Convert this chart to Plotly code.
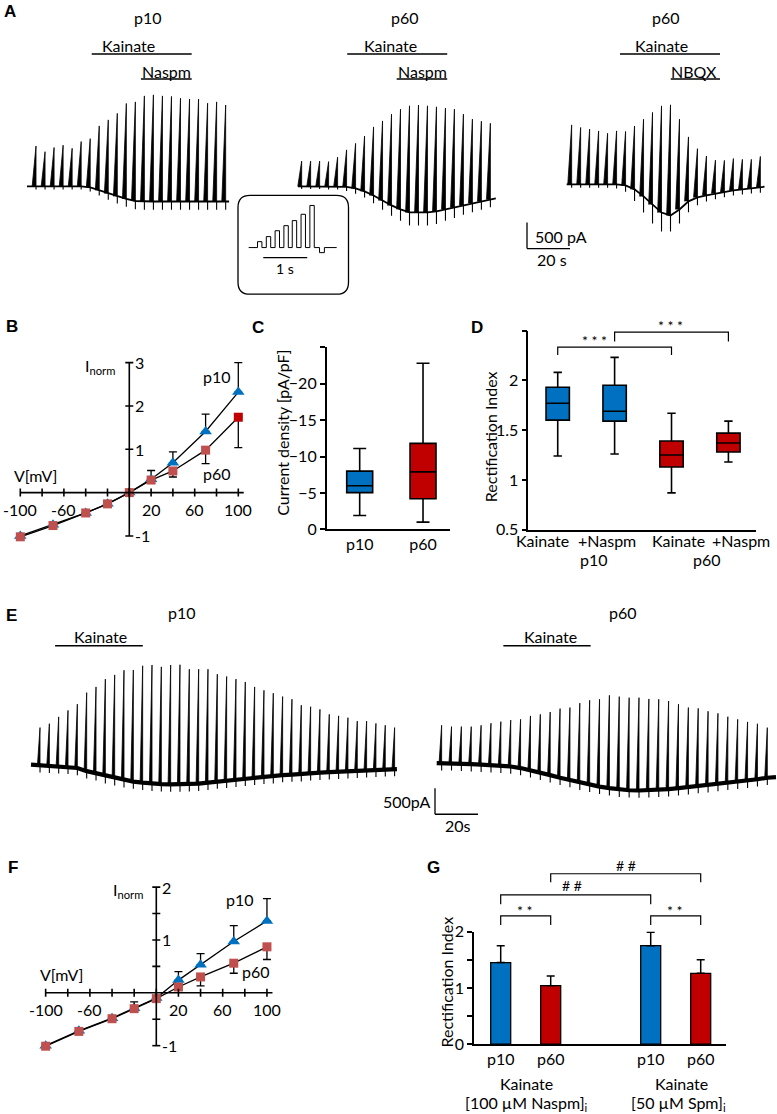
import plotly.graph_objects as go

W, H = 777, 1114
BLUE, RED, ROSE = "#0070C0", "#C00000", "#C0504D"
FONT = "Lato"
S_PER_PX = 20 / 43      # trace time scale (20 s bar)
PA_PER_PX = 500 / 26    # trace current scale (500 pA bar)
V_FIX = 1 / 0.98        # the photographed page comes out ~2 % shorter; stretch vertical layout

# ---- A: responses to ramp stimuli (pA, relative to the initial holding current) ----
a1_peak = [775, 665, 745, 790, 730, 860, 915, 1160, 1275, 1400, 1590, 1620, 1735, 1755, 1735, 1725,
           1690, 1675, 1675, 1595, 1620, 1560]
a1_base = [0, 0, 0, 0, 0, 0, -20, -75, -135, -190, -240, -280, -290, -290, -290, -290, -290, -290,
           -290, -290, -290, -290]
a1_tail = [60, 60, 60, 60, 60, 60, 80, 100, 120, 140, 150, 160, 160, 160, 160, 160, 160, 160, 160,
           160, 160, 160]
a2_peak = [485, 485, 485, 475, 560, 700, 825, 965, 1140, 1255, 1385, 1480, 1545, 1560, 1545, 1525,
           1500, 1480, 1385, 1290, 1250, 1210]
a2_base = [0, 0, 0, 0, 0, -10, -40, -95, -175, -270, -365, -440, -500, -500, -500, -480, -440, -405,
           -365, -325, -290, -250]
a2_tail = [50, 50, 50, 60, 60, 80, 100, 120, 150, 180, 200, 220, 250, 250, 250, 240, 220, 200, 180,
           170, 160, 150]
a3_peak = [1140, 1090, 1060, 1025, 980, 1025, 1015, 1120, 1250, 1380, 1505, 1525, 1250, 910, 685,
           545, 465, 460, 495, 480, 480, 535]
a3_base = [0, 0, 0, 0, 0, 0, -20, -95, -230, -385, -540, -595, -480, -325, -250, -210, -175, -145,
           -115, -95, -75, -60]
a3_tail = [65, 65, 65, 65, 65, 80, 120, 225, 310, 365, 365, 310, 270, 210, 150, 120, 110, 100, 100,
           100, 100, 100]
a1_kainate, a1_naspm = (30.1, 76.6), (53.0, 76.6)
a2_kainate, a2_naspm = (22.9, 69.4), (45.9, 69.4)
a3_kainate, a3_nbqx = (24.8, 71.3), (48.4, 71.3)

# inset: ramp protocol response (relative units)
inset_on = [0.2, 0.4, 0.6, 0.8, 0.99, 1.19, 1.39]
inset_steps = [0.14, 0.26, 0.40, 0.52, 0.64, 0.79, 1.0]
inset_dip = -0.12

# ---- E: responses with intracellular polyamines ----
e1_peak = [710, 785, 915, 1040, 1160, 1380, 1490, 1640, 1720, 1810, 1815, 1895, 1910, 1875, 1910,
           1915, 1830, 1830, 1830, 1735, 1690, 1640, 1585, 1490, 1425, 1370, 1305, 1255, 1140, 1110,
           1060, 965, 935, 900, 835, 835, 790, 755, 710]
e1_base = [-10, -20, -30, -40, -65, -125, -165, -220, -260, -300, -325, -345, -365, -375, -380, -380,
           -375, -365, -345, -325, -310, -290, -270, -250, -230, -220, -200, -190, -185, -165, -155,
           -145, -135, -125, -115, -105, -95, -90, -85]
e2_peak = [725, 700, 700, 700, 725, 765, 795, 825, 840, 905, 935, 980, 1045, 1065, 1150, 1205, 1225,
           1300, 1275, 1255, 1255, 1230, 1225, 1190, 1130, 1065, 1050, 995, 955, 890, 840, 790, 755,
           680]
e2_base = [0, 0, -10, -20, -30, -40, -50, -65, -95, -135, -185, -230, -280, -325, -375, -415, -450,
           -480, -510, -520, -525, -520, -510, -500, -480, -460, -440, -425, -400, -375, -355, -335,
           -310, -280]
e_tail = 140
e1_kainate, e2_kainate = (11.2, 52.0), (31.0, 71.6)

# ---- B / F: normalised I-V relations ----
iv_v = [-100, -70, -40, -20, 0, 20, 40, 70, 100]
b_p10 = [-1.0, -0.74, -0.47, -0.26, 0, 0.31, 0.69, 1.41, 2.32]
b_p10_err = [0, 0, 0, 0, 0, 0.2, 0.25, 0.40, 0.68]
b_p60 = [-1.02, -0.76, -0.47, -0.26, 0, 0.29, 0.50, 0.98, 1.74]
b_p60_err = [0, 0, 0, 0, 0, 0, 0.14, 0.31, 0.70]
f_p10 = [-1.0, -0.72, -0.48, -0.29, -0.10, 0.24, 0.53, 0.97, 1.36]
f_p10_err = [0, 0, 0, 0, 0, 0.16, 0.21, 0.30, 0.42]
f_p60 = [-1.01, -0.73, -0.49, -0.30, -0.11, 0.11, 0.30, 0.56, 0.87]
f_p60_up = [0, 0, 0, 0.13, 0, 0, 0, 0, 0]
f_p60_down = [0, 0, 0, 0, 0, 0, 0.17, 0.19, 0.24]

# ---- C: current density boxes (pA/pF) ----
c_groups = ["p10", "p60"]
c_low = [-11.1, -22.8]
c_q1 = [-8.0, -11.8]
c_med = [-6.0, -7.9]
c_q3 = [-5.05, -4.2]
c_high = [-1.9, -1.0]

# ---- D: rectification index boxes ----
d_labels = ["Kainate", "+Naspm", "Kainate", "+Naspm"]
d_low = [1.24, 1.26, 0.87, 1.18]
d_q1 = [1.60, 1.59, 1.13, 1.28]
d_med = [1.77, 1.69, 1.25, 1.37]
d_q3 = [1.93, 1.95, 1.39, 1.47]
d_high = [2.08, 2.23, 1.67, 1.59]

# ---- G: rectification index bars ----
g_labels = ["p10", "p60", "p10", "p60"]
g_pos = [1, 2, 4, 5]
g_mean = [1.45, 1.04, 1.75, 1.26]
g_sem = [0.30, 0.17, 0.24, 0.24]

fig = go.Figure()
AX = {}
shapes, notes = [], []


def xid(n):
    return "x" if n == 1 else f"x{n}"


def yid(n):
    return "y" if n == 1 else f"y{n}"


def PX(p):
    return p / W


def PY(p):
    # pixel row (from top) -> paper fraction, with the vertical stretch about the page centre
    return 1 - (H / 2 + (p - H / 2) * V_FIX) / H


def add_axes(n, box, xr, yr, xa=None, ya=None):
    left, right, top, bottom = box
    AX[n] = (box, xr, yr)
    base = dict(showgrid=False, zeroline=False, visible=False, fixedrange=True)
    xd = dict(base, domain=[PX(left), PX(right)], range=xr, anchor=yid(n))
    yd = dict(base, domain=[PY(bottom), PY(top)], range=yr, anchor=xid(n))
    xd.update(xa or {})
    yd.update(ya or {})
    fig.update_layout({("xaxis" if n == 1 else f"xaxis{n}"): xd,
                       ("yaxis" if n == 1 else f"yaxis{n}"): yd})


def scaled(box, x0_px, y0_px, sx, sy):
    left, right, top, bottom = box
    return ([(left - x0_px) * sx, (right - x0_px) * sx],
            [(y0_px - bottom) * sy, (y0_px - top) * sy])


def to_px(n, x, y):
    (left, right, top, bottom), xr, yr = AX[n]
    px = left + (x - xr[0]) / (xr[1] - xr[0]) * (right - left)
    py = bottom - (y - yr[0]) / (yr[1] - yr[0]) * (bottom - top)
    return px, py


def seg(x0, y0, x1, y1, w=1.5):
    shapes.append(dict(type="line", xref="paper", yref="paper", x0=PX(x0), y0=PY(y0),
                       x1=PX(x1), y1=PY(y1), line=dict(color="black", width=w)))


def bracket(x0, x1, top, bottom, w=1.2):
    shapes.append(dict(type="path", xref="paper", yref="paper",
                       path=f"M {PX(x0)},{PY(bottom)} L {PX(x0)},{PY(top)} "
                            f"L {PX(x1)},{PY(top)} L {PX(x1)},{PY(bottom)}",
                       line=dict(color="black", width=w)))


def text(x, y, s, size=16, anchor="center", angle=0, bold=False):
    notes.append(dict(x=PX(x), y=PY(y), xref="paper", yref="paper",
                      text=f"<b>{s}</b>" if bold else s, showarrow=False, xanchor=anchor,
                      yanchor="middle", textangle=angle, borderpad=0,
                      font=dict(family="Liberation Sans" if bold else FONT, size=size,
                                color="black")))


def letter(x, y, s):
    text(x, y, s, size=17, bold=True)


def spike_train(n, first, period, peaks, bases, tails, end, base_end, ramp, lw):
    times = [first + k * period for k in range(len(peaks))]
    ref = dict(xaxis=xid(n), yaxis=yid(n), hoverinfo="skip", cliponaxis=False)
    fig.add_trace(go.Scatter(x=[0] + times + [end], y=[0] + bases + [base_end], mode="lines",
                             line=dict(color="black", width=lw), **ref))
    wx, wy, tx, ty = [], [], [], []
    for t, p, b, d in zip(times, peaks, bases, tails):
        wx += [t - ramp, t, t, None]
        wy += [b, p, b, None]
        tx += [t, t, None]
        ty += [b, b - d, None]
    fig.add_trace(go.Scatter(x=wx, y=wy, mode="lines", fill="toself", fillcolor="black",
                             line=dict(color="black", width=0.8), **ref))
    fig.add_trace(go.Scatter(x=tx, y=ty, mode="lines", line=dict(color="black", width=1.1), **ref))


def app_bar(n, window, y_px):
    x0 = to_px(n, window[0], 0)[0]
    x1 = to_px(n, window[1], 0)[0]
    seg(x0, y_px, x1, y_px, 1.5)


# ================= A =================
box = (20, 236, 88, 222)
add_axes(1, box, *scaled(box, 27, 187, S_PER_PX, PA_PER_PX))
spike_train(1, 4.2, 4.2, a1_peak, a1_base, a1_tail, 94, -290, 1.8, 1.8)
box = (290, 500, 88, 232)
add_axes(2, box, *scaled(box, 298, 187, S_PER_PX, PA_PER_PX))
spike_train(2, 1.7, 4.18, a2_peak, a2_base, a2_tail, 92, -230, 1.8, 1.8)
box = (560, 770, 88, 240)
add_axes(3, box, *scaled(box, 566.7, 185, S_PER_PX, PA_PER_PX))
spike_train(3, 2.3, 4.18, a3_peak, a3_base, a3_tail, 92, -45, 1.8, 1.8)

letter(10, 13, "A")
text(148.3, 18.3, "p10")
text(128.3, 46.7, "Kainate")
app_bar(1, a1_kainate, 55)
text(166, 72.7, "Naspm")
app_bar(1, a1_naspm, 80)
text(405, 18.3, "p60")
text(390, 46.7, "Kainate")
app_bar(2, a2_kainate, 55)
text(422.7, 72.7, "Naspm")
app_bar(2, a2_naspm, 80)
text(665.7, 18.3, "p60")
text(661, 46.7, "Kainate")
app_bar(3, a3_kainate, 55)
text(694.3, 72.7, "NBQX")
app_bar(3, a3_nbqx, 80)

# scale bar
sb_v, sb_h = 500 / PA_PER_PX, 20 / S_PER_PX
seg(527, 223, 527, 223 + sb_v, 1.3)
seg(527, 223 + sb_v, 527 + sb_h, 223 + sb_v, 1.3)
text(534, 236.5, "500 pA", anchor="left")
text(551.7, 259.5, "20 s")

# inset
box = (240, 346, 198, 292)
add_axes(4, box, *scaled(box, 248.7, 248, 1 / 44, 1 / 42))
sx, sy = [0], [0]
for t0, h in zip(inset_on, inset_steps):
    sx += [t0, t0, t0 + 0.1, t0 + 0.1]
    sy += [0, h, h, 0]
sx += [1.61, 1.61, 1.72, 1.72, 2.0]
sy += [0, inset_dip, inset_dip, 0, 0]
fig.add_trace(go.Scatter(x=sx, y=sy, mode="lines", line=dict(color="black", width=1),
                         xaxis="x4", yaxis="y4", hoverinfo="skip"))
bx0 = to_px(4, 0.33, 0)[0]
bx1 = to_px(4, 1.33, 0)[0]
seg(bx0, 258, bx1, 258, 1.2)
text((bx0 + bx1) / 2, 269, "1 s", size=14)
x0, y0, x1, y1, r = 238, 196, 348.5, 294.5, 12
shapes.append(dict(
    type="path", xref="paper", yref="paper", line=dict(color="black", width=1.3),
    path=(f"M {PX(x0 + r)},{PY(y0)} L {PX(x1 - r)},{PY(y0)} Q {PX(x1)},{PY(y0)} {PX(x1)},{PY(y0 + r)} "
          f"L {PX(x1)},{PY(y1 - r)} Q {PX(x1)},{PY(y1)} {PX(x1 - r)},{PY(y1)} "
          f"L {PX(x0 + r)},{PY(y1)} Q {PX(x0)},{PY(y1)} {PX(x0)},{PY(y1 - r)} "
          f"L {PX(x0)},{PY(y0 + r)} Q {PX(x0)},{PY(y0)} {PX(x0 + r)},{PY(y0)} Z")))


# ================= B / F: I-V plots =================
def iv_panel(n, box, ox, oy, px_per_mv, px_per_unit, yticks, ylabels, p10, p10_err, p60, p60_up,
             p60_down, p60_colors):
    add_axes(n, box, *scaled(box, ox, oy, 1 / px_per_mv, 1 / px_per_unit))
    xr, yr = xid(n), yid(n)
    ln = dict(color="black", width=1.6)
    shapes.append(dict(type="line", xref=xr, yref=yr, x0=-100, x1=105, y0=0, y1=0, line=ln))
    shapes.append(dict(type="line", xref=xr, yref=yr, x0=0, x1=0, y0=-1, y1=yticks[-1], line=ln))
    for v in [-100, -80, -60, -40, -20, 0, 20, 40, 60, 80, 100]:
        shapes.append(dict(type="line", xref=xr, yref=yr, x0=v, x1=v, ysizemode="pixel",
                           yanchor=0, y0=-4, y1=4, line=ln))
    for v in yticks:
        shapes.append(dict(type="line", xref=xr, yref=yr, y0=v, y1=v, xsizemode="pixel",
                           xanchor=0, x0=-4, x1=4, line=ln))
    for v in [-100, -60, 20, 60, 100]:
        notes.append(dict(x=v, y=0, xref=xr, yref=yr, text=str(v), showarrow=False, yshift=-17,
                          font=dict(family=FONT, size=16, color="black")))
    for v in ylabels:
        notes.append(dict(x=0, y=v, xref=xr, yref=yr, text=str(v), showarrow=False, xshift=4,
                          xanchor="left", font=dict(family=FONT, size=16, color="black")))
    ref = dict(xaxis=xr, yaxis=yr, hoverinfo="skip", cliponaxis=False)
    fig.add_trace(go.Scatter(
        x=iv_v, y=p10, mode="lines+markers", line=dict(color="black", width=1.3),
        marker=dict(symbol="triangle-up", size=11, color=BLUE),
        error_y=dict(type="data", array=p10_err, arrayminus=[0] * len(p10), symmetric=False,
                     color="black", thickness=1.3, width=4), **ref))
    fig.add_trace(go.Scatter(
        x=iv_v, y=p60, mode="lines+markers", line=dict(color="black", width=1.3),
        marker=dict(symbol="square", size=9, color=p60_colors),
        error_y=dict(type="data", array=p60_up, arrayminus=p60_down, symmetric=False,
                     color="black", thickness=1.3, width=4), **ref))


iv_panel(5, (10, 250, 355, 545), 129.3, 492.3, 1.09, 43.2, [-1, 1, 2, 3], [3, 2, 1, -1],
         b_p10, b_p10_err, b_p60, [0] * 9, b_p60_err, [ROSE] * 8 + [RED])
letter(12, 327, "B")
text(100, 366.7, "I<sub>norm</sub>")
text(35, 475, "V[mV]")
text(216.7, 376.7, "p10")
text(216.7, 473.3, "p60")

iv_panel(10, (35, 280, 875, 1055), 156.3, 991, 1.1065, 52.7, [-1, -0.5, 0.5, 1, 1.5, 2],
         [2, 1, -1], f_p10, f_p10_err, f_p60, f_p60_up, f_p60_down, [ROSE] * 9)
letter(12.7, 866, "F")
text(128.3, 889.3, "I<sub>norm</sub>")
text(61.7, 972.7, "V[mV]")
text(240, 898.3, "p10")
text(256, 970, "p60")

# ================= C =================
axis_style = dict(visible=True, showline=True, linecolor="black", linewidth=1.6,
                  tickfont=dict(family=FONT, size=16, color="black"))
tick_style = dict(ticks="outside", ticklen=5, tickwidth=1.6, tickcolor="black")
add_axes(6, (326.7, 450, 347.3, 529), [-0.521, 1.426], [0, -25],
         xa={**axis_style, "tickvals": [0, 1], "ticktext": c_groups, "ticks": ""},
         ya={**axis_style, **tick_style, "tickvals": [0, -5, -10, -15, -20],
             "minor": {**tick_style, "tickvals": [-25]}})
for i, col in enumerate([BLUE, RED]):
    fig.add_trace(go.Box(x=[i], lowerfence=[c_low[i]], q1=[c_q1[i]], median=[c_med[i]],
                         q3=[c_q3[i]], upperfence=[c_high[i]], width=0.41, whiskerwidth=0.5,
                         fillcolor=col, line=dict(color="black", width=1.6), boxpoints=False,
                         xaxis="x6", yaxis="y6", hoverinfo="skip"))
letter(258, 328, "C")
text(281.7, 433, "Current density [pA/pF]", angle=-90)

# ================= D =================
add_axes(7, (528.3, 756, 330.7, 529.3), [0.483, 4.485], [0.5, 2.5],
         xa={**axis_style, "showticklabels": False, "ticks": ""},
         ya={**axis_style, **tick_style, "tickvals": [0.5, 1, 1.5, 2],
             "minor": {**tick_style, "tickvals": [2.5]}})
for i, col in enumerate([BLUE, BLUE, RED, RED]):
    fig.add_trace(go.Box(x=[i + 1], lowerfence=[d_low[i]], q1=[d_q1[i]], median=[d_med[i]],
                         q3=[d_q3[i]], upperfence=[d_high[i]], width=0.41, whiskerwidth=0.36,
                         fillcolor=col, line=dict(color="black", width=1.6), boxpoints=False,
                         xaxis="x7", yaxis="y7", hoverinfo="skip"))
letter(477.3, 328, "D")
text(490, 437, "Rectification Index", angle=-90)
for xc, lab in zip([542.5, 606.7, 678, 741], d_labels):
    text(xc, 540.5, lab)
text(594, 559, "p10")
text(707, 559, "p60")
bracket(to_px(7, 1, 0)[0], to_px(7, 3, 0)[0], 347.3, 355)
bracket(to_px(7, 2, 0)[0], to_px(7, 4, 0)[0], 332.3, 341.7)
text(594, 340.5, "* * *", size=14)
text(670, 326, "* * *", size=14)

# ================= E =================
box = (25, 400, 650, 805)
add_axes(8, box, *scaled(box, 31, 763.5, S_PER_PX, PA_PER_PX))
spike_train(8, 4.2, 4.34, e1_peak, e1_base, [e_tail] * len(e1_peak), 170.2, -85, 1.2, 4.2)
box = (430, 777, 650, 805)
add_axes(9, box, *scaled(box, 436.7, 762, S_PER_PX, PA_PER_PX))
spike_train(9, 2.3, 4.59, e2_peak, e2_base, [e_tail] * len(e2_peak), 157.8, -270, 1.2, 4.2)
letter(11.7, 615, "E")
text(181.7, 611.7, "p10")
text(100, 636, "Kainate")
app_bar(8, e1_kainate, 645)
text(623.3, 611.7, "p60")
text(550, 636, "Kainate")
app_bar(9, e2_kainate, 645)
seg(435, 787, 435, 787 + sb_v, 1.3)
seg(435, 787 + sb_v, 435 + sb_h, 787 + sb_v, 1.3)
text(432, 800, "500pA", anchor="right")
text(458, 824, "20s")

# ================= G =================
add_axes(11, (474, 726, 930, 1042.3), [0.466, 5.506], [0, 2],
         xa={**axis_style, "tickvals": g_pos, "ticktext": g_labels, "ticks": ""},
         ya={**axis_style, **tick_style, "tickvals": [0, 1, 2],
             "minor": {**tick_style, "tickvals": [0.5, 1.5]}})
fig.add_trace(go.Bar(x=g_pos, y=g_mean, width=0.4, marker=dict(color=[BLUE, RED, BLUE, RED],
                     line=dict(color="black", width=1.3)),
                     error_y=dict(type="data", array=g_sem, arrayminus=[0] * 4, symmetric=False,
                                  color="black", thickness=1.5, width=4),
                     xaxis="x11", yaxis="y11", hoverinfo="skip", cliponaxis=False))
letter(433.3, 866, "G")
text(446.7, 980, "Rectification Index", angle=-90)
text(526.7, 1081.7, "Kainate")
text(526.7, 1101.7, "[100 µM Naspm]<sub>i</sub>")
text(681.7, 1081.7, "Kainate")
text(678.3, 1101.7, "[50 µM Spm]<sub>i</sub>")
gx = [to_px(11, p, 0)[0] for p in g_pos]
bracket(gx[0], gx[1], 914.3, 923.3)
bracket(gx[0], gx[2], 893.3, 902.7)
bracket(gx[1], gx[3], 872.3, 880.7)
bracket(gx[2], gx[3], 914.3, 923.3)
text(525, 908.5, "* *", size=14)
text(571.7, 884.3, "# #", size=14)
text(625.7, 864, "# #", size=14)
text(675, 908.5, "* *", size=14)

fig.update_layout(width=W, height=H, margin=dict(l=0, r=0, t=0, b=0), paper_bgcolor="white",
                  plot_bgcolor="rgba(0,0,0,0)", showlegend=False, shapes=shapes, annotations=notes,
                  font=dict(family=FONT, color="black"))
page_fix = ("document.documentElement.style.overflow = 'hidden';"
            "document.body.style.margin = '0'; document.body.style.overflow = 'hidden';"
            "var gd = document.getElementsByClassName('plotly-graph-div')[0];"
            "gd.style.position = 'absolute'; gd.style.top = '0px'; gd.style.left = '0px';")
fig.write_html("out.html", config={"displayModeBar": False}, post_script=page_fix)
